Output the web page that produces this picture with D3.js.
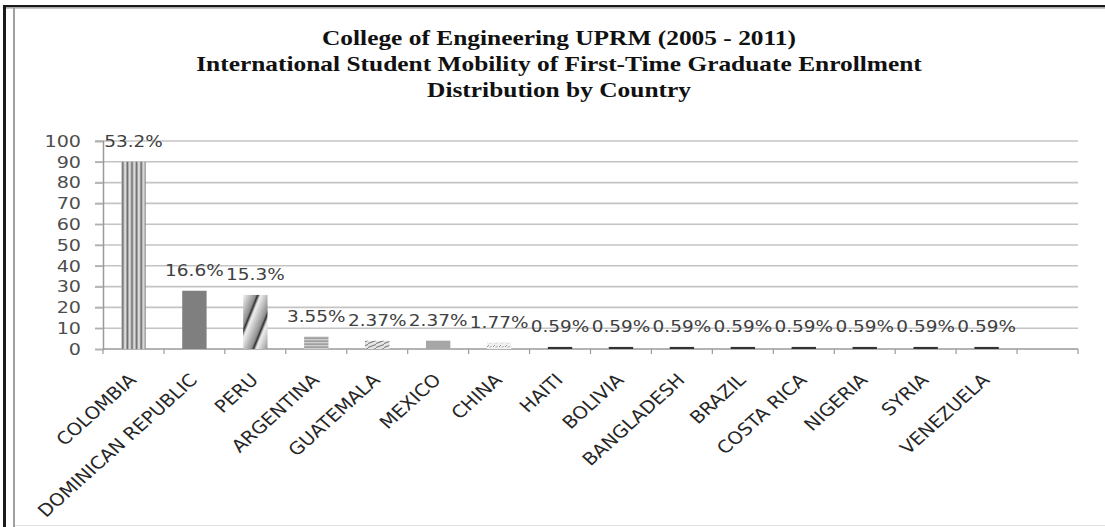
<!DOCTYPE html>
<html>
<head>
<meta charset="utf-8">
<script src="https://cdn.jsdelivr.net/npm/d3@7"></script>
<style>
  html, body { margin: 0; padding: 0; background: #fff; }
  svg { display: block; }
</style>
</head>
<body>
<svg id="chart" width="1105" height="527"></svg>
<script>
// ---- data ----
const titleLines = [
  "College of Engineering UPRM (2005 - 2011)",
  "International Student Mobility of First-Time Graduate Enrollment",
  "Distribution by Country"
];
const countries = ["COLOMBIA","DOMINICAN REPUBLIC","PERU","ARGENTINA","GUATEMALA","MEXICO","CHINA","HAITI","BOLIVIA","BANGLADESH","BRAZIL","COSTA RICA","NIGERIA","SYRIA","VENEZUELA"];
const students = [90, 28, 26, 6, 4, 4, 3, 1, 1, 1, 1, 1, 1, 1, 1];
const pctLabels = ["53.2%","16.6%","15.3%","3.55%","2.37%","2.37%","1.77%","0.59%","0.59%","0.59%","0.59%","0.59%","0.59%","0.59%","0.59%"];
const yTicks = [0,10,20,30,40,50,60,70,80,90,100];
const fills = ["url(#pVert)","#7f7f7f","url(#pDiag)","url(#pHoriz)","url(#pWave)","#a6a6a6","url(#pConf)","#333","#333","#333","#333","#333","#333","#333","#333"];

const svg = d3.select("#chart");
const W = 1105, H = 527;
const plot = {left: 103, right: 1078, top: 141, bottom: 349};
const SANS = "'DejaVu Sans', sans-serif";

// ---- patterns ----
const defs = svg.append("defs");
const pv = defs.append("pattern").attr("id","pVert").attr("patternUnits","userSpaceOnUse").attr("width",4.6).attr("height",10);
pv.append("rect").attr("width",4.6).attr("height",10).attr("fill","#d9d9d9");
pv.append("rect").attr("x",2.3).attr("width",1.8).attr("height",10).attr("fill","#6b6b6b");

const ph = defs.append("pattern").attr("id","pHoriz").attr("patternUnits","userSpaceOnUse").attr("width",10).attr("height",3);
ph.append("rect").attr("width",10).attr("height",3).attr("fill","#d0d0d0");
ph.append("rect").attr("y",1.5).attr("width",10).attr("height",1.2).attr("fill","#8a8a8a");

const grad = defs.append("linearGradient").attr("id","gDiag").attr("x1","0").attr("x2","1").attr("y1","0").attr("y2","0");
grad.append("stop").attr("offset","0").attr("stop-color","#f2f2f2");
grad.append("stop").attr("offset","0.75").attr("stop-color","#8c8c8c");
grad.append("stop").attr("offset","0.85").attr("stop-color","#262626");
grad.append("stop").attr("offset","1").attr("stop-color","#f2f2f2");
const pd = defs.append("pattern").attr("id","pDiag").attr("patternUnits","userSpaceOnUse").attr("width",16).attr("height",40).attr("patternTransform","rotate(22)");
pd.append("rect").attr("width",16).attr("height",40).attr("fill","url(#gDiag)");

const pw = defs.append("pattern").attr("id","pWave").attr("patternUnits","userSpaceOnUse").attr("width",8).attr("height",4);
pw.append("rect").attr("width",8).attr("height",4).attr("fill","#e6e6e6");
pw.append("path").attr("d","M0,3.5 L8,0.5").attr("stroke","#777").attr("stroke-width",1.1);

const pc = defs.append("pattern").attr("id","pConf").attr("patternUnits","userSpaceOnUse").attr("width",6).attr("height",4);
pc.append("rect").attr("width",6).attr("height",4).attr("fill","#f0f0f0");
pc.append("path").attr("d","M1,3 L3,1 M4,3.5 L5.5,2").attr("stroke","#999").attr("stroke-width",1);

// ---- frame ----
svg.append("rect").attr("x",3).attr("y",5).attr("width",W).attr("height",2.5).attr("fill","#1a1a1a");
svg.append("rect").attr("x",6).attr("y",7.5).attr("width",W).attr("height",1.5).attr("fill","#c8c8c8");
svg.append("rect").attr("x",3).attr("y",5).attr("width",3).attr("height",H).attr("fill","#1a1a1a");
svg.append("rect").attr("x",13).attr("y",8).attr("width",2).attr("height",H).attr("fill","#a0a0a0");
svg.append("rect").attr("x",15).attr("y",525).attr("width",W).attr("height",1).attr("fill","#e0e0e0");

// ---- title ----
svg.append("g").selectAll("text").data(titleLines).join("text")
  .attr("transform", (d,i) => `translate(559,${45 + i*26}) scale(1.21,1)`)
  .attr("text-anchor","middle")
  .attr("font-family","'Liberation Serif', 'Times New Roman', serif")
  .attr("font-weight","bold").attr("font-size", 21)
  .attr("fill","#111")
  .text(d => d);

// ---- scales ----
const x = d3.scaleBand().domain(countries.concat([""])).range([plot.left, plot.right]).padding(0);
const y = d3.scaleLinear().domain([0,100]).range([plot.bottom, plot.top]);

// gridlines
svg.append("g").selectAll("line").data(yTicks.filter(t => t > 0)).join("line")
  .attr("x1", plot.left - 8).attr("x2", plot.right)
  .attr("y1", d => y(d)).attr("y2", d => y(d))
  .attr("stroke","#c4c4c4").attr("stroke-width",1.6);

// y axis
const yAxis = svg.append("g").attr("transform",`translate(${plot.left},0)`)
  .call(d3.axisLeft(y).tickValues(yTicks).tickSize(8).tickPadding(14).tickFormat(d3.format("d")));
yAxis.select(".domain").attr("stroke","#9a9a9a").attr("stroke-width",1.5);
yAxis.selectAll(".tick line").attr("stroke","#b0b0b0").attr("stroke-width",1.5);
yAxis.selectAll("text")
  .attr("x", 0)
  .attr("transform","translate(-22,0) scale(1.16,1)")
  .attr("font-family",SANS).attr("font-size",16.5).attr("fill","#4d4d4d");

// x axis
const xg = svg.append("g");
xg.append("line").attr("x1",plot.left).attr("x2",plot.right).attr("y1",plot.bottom).attr("y2",plot.bottom)
  .attr("stroke","#9a9a9a").attr("stroke-width",1.5);
const bounds = x.domain().map(d => x(d)).concat([plot.right]);
xg.selectAll("line.tk").data(bounds).join("line").attr("class","tk")
  .attr("x1", d => d).attr("x2", d => d).attr("y1", plot.bottom).attr("y2", plot.bottom + 5)
  .attr("stroke","#9a9a9a").attr("stroke-width",1.2);

// bars
const bw = x.bandwidth() * 0.4;
svg.append("g").selectAll("rect").data(countries).join("rect")
  .attr("x", d => x(d) + x.bandwidth()/2 - bw/2)
  .attr("width", bw)
  .attr("y", (d,i) => y(students[i]))
  .attr("height", (d,i) => y(0) - y(students[i]))
  .attr("fill", (d,i) => fills[i]);

// data labels
svg.append("g").selectAll("text").data(countries).join("text")
  .attr("transform", (d,i) => `translate(${x(d) + x.bandwidth()/2},${y(students[i]) - 15}) scale(1.12,1)`)
  .attr("text-anchor","middle")
  .attr("font-family",SANS).attr("font-size",16.5)
  .attr("fill","#404040")
  .text((d,i) => pctLabels[i]);

// x labels
svg.append("g").selectAll("text").data(countries).join("text")
  .attr("transform", d => `translate(${x(d) + x.bandwidth()/2 + 4},${plot.bottom + 32}) scale(1.11,1) rotate(-45)`)
  .attr("text-anchor","end")
  .attr("font-family",SANS).attr("font-size",17.5)
  .attr("fill","#262626")
  .text(d => d);
</script>
</body>
</html>
